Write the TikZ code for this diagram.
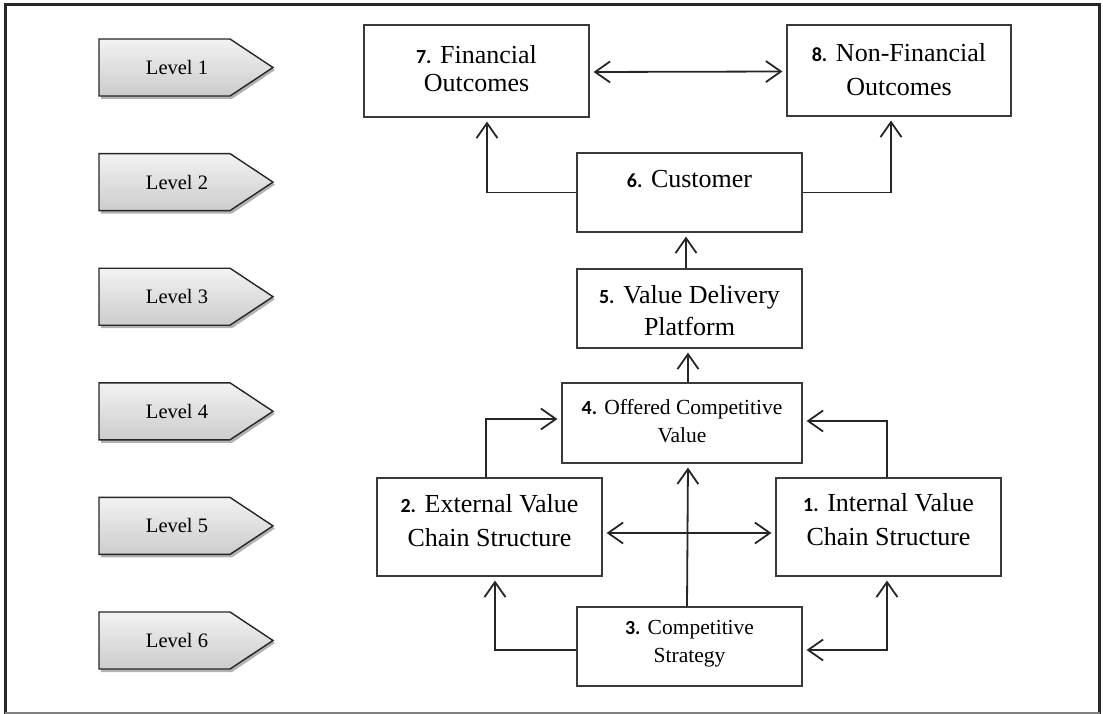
\documentclass[tikz,border=0pt]{standalone}
\usepackage{fontspec}
\setmainfont{Liberation Serif}
\newfontfamily\numf{Carlito}
\usetikzlibrary{arrows.meta,calc}
\definecolor{ink}{HTML}{262626}
\definecolor{boxline}{HTML}{3A3A3A}
\newcommand{\nbig}[1]{{\numf\bfseries\fontsize{20}{20}\selectfont #1}}
\newcommand{\nsmall}[1]{{\numf\bfseries\fontsize{20}{20}\selectfont #1}}
\begin{document}
\begin{tikzpicture}[x=1pt,y=-1pt,
  box/.style={draw=boxline,line width=1.1pt,rectangle,inner sep=0pt},
  bigtxt/.style={align=center,inner sep=0pt,font=\fontsize{26}{#1}\selectfont},
  smalltxt/.style={align=center,inner sep=0pt,font=\fontsize{21.5}{#1}\selectfont},
  lvtxt/.style={inner sep=0pt,font=\fontsize{20.5}{22}\selectfont},
  conn/.style={draw=ink,line width=1.8pt},
  tip/.style={-{Straight Barb[length=15pt,width=21pt,line width=1.8pt]},shorten >=4pt},
  dtip/.style={{Straight Barb[length=15pt,width=21pt,line width=1.8pt]}-{Straight Barb[length=15pt,width=21pt,line width=1.8pt]},shorten >=4pt,shorten <=4pt}
]
\useasboundingbox (0,0) rectangle (1103,714);
% frame
\draw[ink,line width=3pt] (5,714) -- (5,5) -- (1099.5,5) -- (1099.5,714);
\draw[gray,line width=1.4pt] (5,713) -- (1099.5,713);

% level arrows
\foreach \i in {1,...,6}{
  \pgfmathsetmacro\c{67.5+114.6*(\i-1)}
  \fill[gray!60] (101,{\c-26.5}) -- (232,{\c-26.5}) -- (275,{\c+2.5}) -- (232,{\c+31.5}) -- (101,{\c+31.5}) -- cycle;
  \path[draw=ink,line width=1.4pt,top color=gray!10,bottom color=gray!40]
    (99,{\c-28.5}) -- (230,{\c-28.5}) -- (273,\c) -- (230,{\c+28.5}) -- (99,{\c+28.5}) -- cycle;
  \node[lvtxt] (lv\i) at (177,\c) {Level \i};
}

% boxes
\node[box,minimum width=225pt,minimum height=92pt] (b7) at (476.5,71) {};
\node[box,minimum width=224pt,minimum height=91pt] (b8) at (899,70.5) {};
\node[box,minimum width=225pt,minimum height=79pt] (b6) at (689.5,192.5) {};
\node[box,minimum width=225pt,minimum height=79pt] (b5) at (689.5,308.5) {};
\node[box,minimum width=240pt,minimum height=80pt] (b4) at (682,423) {};
\node[box,minimum width=225pt,minimum height=98pt] (b2) at (489.5,527) {};
\node[box,minimum width=225pt,minimum height=98pt] (b1) at (888.5,527) {};
\node[box,minimum width=225pt,minimum height=79pt] (b3) at (689.5,646.5) {};

% texts
\node[bigtxt=28] (t7) at (476.5,69) {\nbig{7.} Financial\\Outcomes};
\node[bigtxt=34] (t8) at (899,69.5) {\nbig{8.} Non-Financial\\Outcomes};
\node[bigtxt=30] (t6) at (689.5,179) {\nbig{6.} Customer};
\node[bigtxt=32] (t5) at (689.5,311) {\nbig{5.} Value Delivery\\Platform};
\node[smalltxt=28] (t4) at (682,421) {\nsmall{4.} Offered Competitive\\Value};
\node[bigtxt=34] (t2) at (489.5,521) {\nbig{2.} External Value\\Chain Structure};
\node[bigtxt=34] (t1) at (888.5,520) {\nbig{1.} Internal Value\\Chain Structure};
\node[smalltxt=28] (t3) at (689.5,644) {\nsmall{3.} Competitive\\Strategy};

% connectors
\draw[conn,dtip] ([yshift=-1pt]b7.east) -- ([yshift=-1pt]b8.west);
\draw[conn,tip] (b6.west) -| ([xshift=10.5pt]b7.south);
\draw[conn,tip] (b6.east) -| ([xshift=-8pt]b8.south);
\draw[conn,tip] ([xshift=-3.5pt]b5.north) -- ([xshift=-3.5pt]b6.south);
\draw[conn,tip] ([xshift=6pt]b4.north) -- ([xshift=-1.5pt]b5.south);
\draw[conn,tip] ([xshift=-2.5pt]b3.north) -- ([xshift=6pt]b4.south);
\draw[conn,tip] ([xshift=-3.5pt]b2.north) |- ([yshift=4pt]b4.west);
\draw[conn,tip] ([xshift=-1.5pt]b1.north) |- ([yshift=2pt]b4.east);
\draw[conn,dtip] ([yshift=-6pt]b2.east) -- ([yshift=-6pt]b1.west);
\draw[conn,tip] ([yshift=-3.5pt]b3.west) -| ([xshift=5.5pt]b2.south);
\draw[conn,dtip] ([xshift=-1.5pt]b1.south) |- ([yshift=-3.5pt]b3.east);
\end{tikzpicture}
\end{document}
